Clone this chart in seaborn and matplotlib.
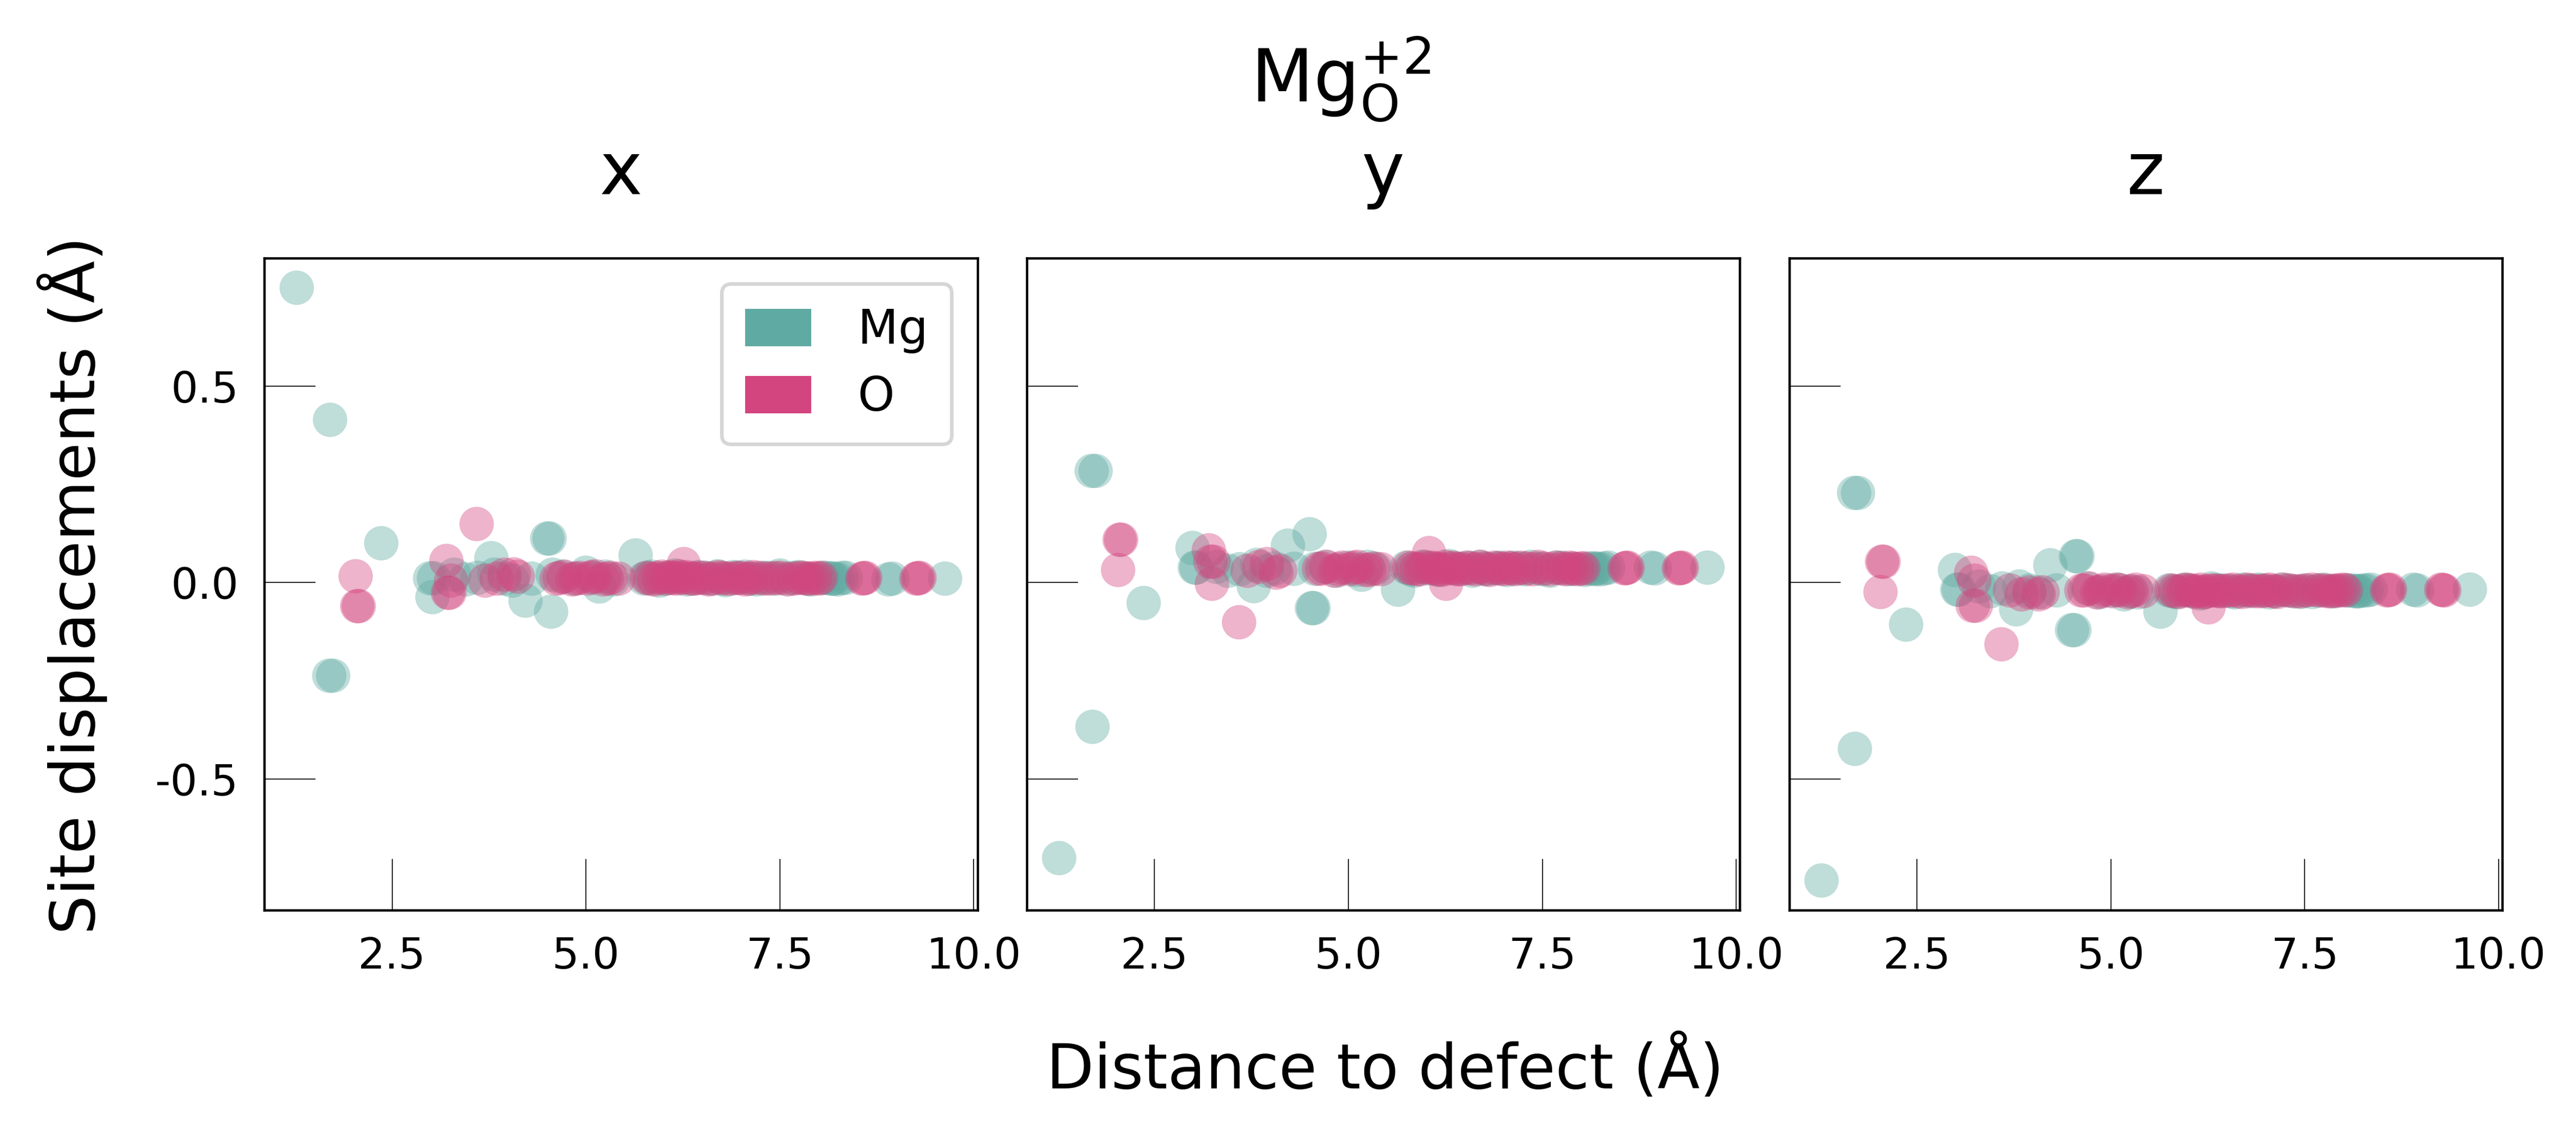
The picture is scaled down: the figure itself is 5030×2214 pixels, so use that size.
import matplotlib
matplotlib.use("Agg")
import matplotlib.pyplot as plt
import numpy as np
import pandas as pd
import seaborn as sns
from matplotlib.patches import Patch

# ---------------- data ----------------
species = ["Mg", "O"]
colors = ["#5FAAA2", "#D3457E"]
components = ["x", "y", "z"]
suptitle = r"Mg$_\mathregular{O}^\mathregular{+2}$"
xlabel = "Distance to defect (Å)"
ylabel = "Site displacements (Å)"
xticks = [2.5, 5.0, 7.5, 10.0]
yticks = [-0.5, 0.0, 0.5]

mg_dist = [1.27, 1.70, 1.69, 1.74, 2.36, 2.99, 3.02, 3.04, 3.30, 3.45,
           3.60, 3.78, 3.82, 3.95, 4.05, 4.22, 4.30, 4.50, 4.53, 4.55,
           4.57, 4.70, 4.85, 5.00, 5.10, 5.17, 5.25, 5.35, 5.64, 5.75,
           5.85, 5.95, 6.05, 6.15, 6.30, 6.45, 6.60, 6.70, 6.80, 6.95,
           7.05, 7.20, 7.35, 7.50, 7.60, 7.75, 7.90, 8.05, 8.15, 8.20,
           8.25, 8.35, 8.90, 8.95, 9.63,
           5.80, 6.00, 6.20, 6.38, 6.55, 6.75, 6.90, 7.12, 7.28, 7.45,
           7.68, 7.85, 8.10, 8.18, 8.30]
mg_dx = [0.750, 0.414, -0.237, -0.237, 0.100, 0.011, -0.037, 0.011, 0.020, 0.008,
         0.012, 0.062, 0.020, 0.010, 0.005, -0.046, 0.010, 0.112, 0.112, -0.074,
         0.020, 0.015, 0.010, 0.025, 0.012, -0.010, 0.015, 0.008, 0.069, 0.010,
         0.015, 0.005, 0.012, 0.018, 0.008, 0.014, 0.010, 0.016, 0.006, 0.012,
         0.015, 0.008, 0.012, 0.018, 0.010, 0.014, 0.008, 0.012, 0.010, 0.010,
         0.008, 0.012, 0.008, 0.010, 0.010,
         0.012, 0.010, 0.012, 0.010, 0.012, 0.010, 0.014, 0.010, 0.012, 0.010,
         0.012, 0.010, 0.012, 0.010, 0.012]
mg_dy = [-0.701, -0.367, 0.284, 0.284, -0.052, 0.088, 0.038, 0.038, 0.040, 0.030,
         0.034, -0.009, 0.045, 0.030, 0.036, 0.094, 0.035, 0.123, -0.065, -0.065,
         0.035, 0.040, 0.030, 0.038, 0.032, 0.020, 0.040, 0.035, -0.018, 0.038,
         0.030, 0.040, 0.036, 0.032, 0.042, 0.035, 0.030, 0.040, 0.034, 0.038,
         0.032, 0.036, 0.040, 0.034, 0.030, 0.038, 0.035, 0.032, 0.036, 0.036,
         0.034, 0.038, 0.038, 0.036, 0.038,
         0.034, 0.038, 0.034, 0.036, 0.038, 0.034, 0.036, 0.038, 0.034, 0.036,
         0.038, 0.034, 0.036, 0.034, 0.036]
mg_dz = [-0.758, -0.423, 0.228, 0.228, -0.107, 0.032, -0.018, -0.018, -0.010, -0.022,
         -0.015, -0.068, -0.010, -0.020, -0.025, 0.044, -0.020, -0.121, -0.121, 0.067,
         0.067, -0.015, -0.025, -0.020, -0.018, -0.030, -0.022, -0.025, -0.074, -0.020,
         -0.025, -0.018, -0.022, -0.028, -0.015, -0.020, -0.025, -0.018, -0.022, -0.020,
         -0.025, -0.018, -0.022, -0.020, -0.024, -0.018, -0.022, -0.020, -0.022, -0.022,
         -0.020, -0.018, -0.018, -0.020, -0.018,
         -0.022, -0.020, -0.024, -0.020, -0.022, -0.020, -0.018, -0.022, -0.020, -0.024,
         -0.020, -0.022, -0.020, -0.022, -0.020]

o_dist = [2.03, 2.05, 2.07, 3.20, 3.22, 3.24, 3.26, 3.59, 3.70, 3.85,
          3.95, 4.07, 4.12, 4.62, 4.72, 4.82, 4.92, 5.02, 5.12, 5.22,
          5.32, 5.42, 5.78, 5.88, 5.98, 6.04, 6.12, 6.20, 6.26, 6.35,
          6.45, 6.58, 6.70, 6.82, 6.95, 7.05, 7.15, 7.30, 7.45, 7.60,
          7.75, 7.85, 7.95, 8.00, 8.56, 8.60, 9.26, 9.30,
          4.66, 4.87, 5.07, 5.27, 5.83, 5.93, 6.08, 6.16, 6.24, 6.30,
          6.40, 6.52, 6.64, 6.76, 6.88, 7.00, 7.10, 7.22, 7.38, 7.52,
          7.68, 7.80, 7.90, 8.03, 8.58, 9.28]
o_dx = [0.016, -0.060, -0.060, 0.055, -0.026, -0.026, 0.005, 0.149, 0.005, 0.010,
        0.020, 0.021, 0.015, 0.010, 0.015, 0.008, 0.012, 0.010, 0.016, 0.008,
        0.012, 0.010, 0.012, 0.008, 0.015, 0.010, 0.012, 0.016, 0.047, 0.010,
        0.012, 0.008, 0.014, 0.010, 0.012, 0.008, 0.014, 0.010, 0.012, 0.008,
        0.012, 0.010, 0.012, 0.010, 0.010, 0.012, 0.010, 0.012,
        0.012, 0.010, 0.014, 0.010, 0.010, 0.012, 0.014, 0.010, 0.012, 0.014,
        0.010, 0.012, 0.010, 0.012, 0.010, 0.012, 0.010, 0.012, 0.010, 0.012,
        0.010, 0.012, 0.010, 0.012, 0.011, 0.011]
o_dy = [0.032, 0.109, 0.109, 0.082, 0.053, -0.003, 0.053, -0.101, 0.030, 0.040,
        0.047, 0.025, 0.030, 0.035, 0.040, 0.030, 0.038, 0.034, 0.040, 0.032,
        0.036, 0.034, 0.038, 0.034, 0.040, 0.075, 0.036, 0.032, -0.003, 0.038,
        0.034, 0.036, 0.040, 0.032, 0.036, 0.038, 0.034, 0.036, 0.040, 0.034,
        0.036, 0.038, 0.034, 0.036, 0.036, 0.038, 0.036, 0.038,
        0.036, 0.034, 0.038, 0.032, 0.036, 0.034, 0.038, 0.034, 0.040, 0.036,
        0.034, 0.038, 0.034, 0.036, 0.038, 0.034, 0.036, 0.038, 0.034, 0.036,
        0.038, 0.034, 0.036, 0.036, 0.037, 0.037]
o_dz = [-0.024, 0.053, 0.053, 0.025, -0.059, 0.005, -0.059, -0.157, -0.020, -0.030,
        -0.025, -0.030, -0.025, -0.020, -0.015, -0.025, -0.018, -0.022, -0.020, -0.025,
        -0.018, -0.022, -0.020, -0.024, -0.018, -0.020, -0.022, -0.025, -0.063, -0.020,
        -0.022, -0.018, -0.024, -0.020, -0.022, -0.018, -0.024, -0.020, -0.022, -0.018,
        -0.020, -0.022, -0.020, -0.018, -0.020, -0.018, -0.018, -0.020,
        -0.020, -0.022, -0.018, -0.022, -0.022, -0.020, -0.024, -0.018, -0.022, -0.020,
        -0.022, -0.020, -0.022, -0.018, -0.022, -0.020, -0.022, -0.018, -0.022, -0.020,
        -0.020, -0.022, -0.020, -0.020, -0.019, -0.019]

# ---------------- table ----------------
frames = []
for sp, dist, comps in [("Mg", mg_dist, (mg_dx, mg_dy, mg_dz)),
                        ("O", o_dist, (o_dx, o_dy, o_dz))]:
    for comp, vals in zip(components, comps):
        frames.append(pd.DataFrame({"distance": dist, "displacement": vals,
                                    "species": sp, "component": comp}))
df = pd.concat(frames, ignore_index=True)

# ---------------- style ----------------
sns.set_theme(style="white")
plt.rcParams["font.family"] = ["DejaVu Sans"]
plt.rcParams["axes.unicode_minus"] = False
plt.rcParams["axes.edgecolor"] = "black"
plt.rcParams["axes.linewidth"] = 1.1
plt.rcParams["text.color"] = "black"
plt.rcParams["axes.labelcolor"] = "black"
plt.rcParams["xtick.labelcolor"] = "black"
plt.rcParams["ytick.labelcolor"] = "black"

fig, axes = plt.subplots(1, 3, figsize=(5030 / 300, 2214 / 300), dpi=300,
                         sharex=True, sharey=True)
fig.subplots_adjust(left=0.1026, right=0.9714, bottom=0.1974, top=0.7724, wspace=0.069)

for ax, comp in zip(axes, components):
    sub = df[df["component"] == comp]
    sns.scatterplot(data=sub, x="distance", y="displacement", hue="species",
                    hue_order=species, palette=colors, s=260, alpha=0.4,
                    linewidth=0, legend=False, ax=ax)
    ax.set_title(comp, fontsize=34, pad=30, color="black")
    ax.set_xlabel("")
    ax.set_ylabel("")
    ax.set_xticks(xticks)
    ax.set_yticks(yticks)
    ax.tick_params(axis="both", which="major", direction="in", length=24,
                   width=0.5, color="#222222", labelcolor="black", labelsize=20, pad=12,
                   bottom=True, left=True, top=False, right=False)
    for sp in ax.spines.values():
        sp.set_color("black")
        sp.set_linewidth(1.1)

handles = [Patch(facecolor=c, edgecolor="none", label=s) for s, c in zip(species, colors)]
leg = axes[0].legend(handles=handles, loc="upper right", fontsize=22,
                     handlelength=1.4, handleheight=0.85, handletextpad=1.0,
                     labelspacing=0.45, borderpad=0.5, borderaxespad=0.55,
                     frameon=True, fancybox=True, framealpha=1)
leg.get_frame().set_edgecolor("#d6d6d6")
leg.get_frame().set_linewidth(1.7)
for t in leg.get_texts():
    t.set_color("black")

fig.text(0.5205, 0.910, suptitle, fontsize=34, ha="center", va="baseline", color="black")
fig.text(0.5376, 0.058, xlabel, fontsize=29, ha="center", va="center", color="black")
fig.text(0.028, 0.484, ylabel, fontsize=29, ha="center", va="center", rotation=90,
         color="black")

fig.savefig("out.png", dpi=300)
